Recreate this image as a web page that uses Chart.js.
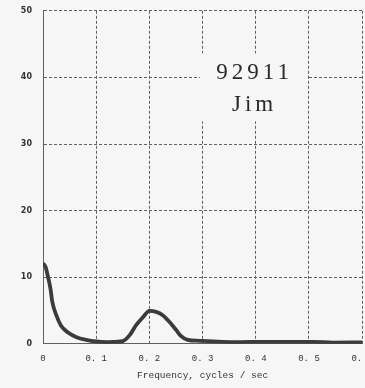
<!DOCTYPE html>
<html>
<head>
<meta charset="utf-8">
<script src="https://cdn.jsdelivr.net/npm/chart.js@4/dist/chart.umd.min.js"></script>
<style>
  html, body { margin: 0; padding: 0; background: #f6f6f6; overflow: hidden; }
  #wrap { width: 382px; height: 393px; margin-top: -5px; }
</style>
</head>
<body>
<div id="wrap"><canvas id="spec"></canvas></div>
<script>
// spectrum samples: frequency (cycles/sec) and power
const freqs = [0, 0.005, 0.0095, 0.014, 0.0175, 0.025, 0.034, 0.047, 0.063, 0.081, 0.1, 0.119, 0.137,
  0.15, 0.163, 0.175, 0.188, 0.2, 0.2125, 0.225, 0.2375, 0.25, 0.259, 0.272, 0.294, 0.32, 0.36, 0.42, 0.51, 0.545, 0.6];
const power = [12.1, 11.5, 10.0, 8.3, 6.3, 4.3, 2.7, 1.7, 1.0, 0.6, 0.35, 0.25, 0.3,
  0.4, 1.3, 2.8, 4.0, 4.95, 4.8, 4.3, 3.3, 2.1, 1.2, 0.6, 0.45, 0.35, 0.25, 0.3, 0.28, 0.18, 0.2];
const xTickLabels = ['0', '0. 1', '0. 2', '0. 3', '0. 4', '0. 5', '0. 6'];
const yTicks = [0, 10, 20, 30, 40, 50];
const noteLines = ['92911', 'Jim'];

const ink = '#3b3b3b';
const gridInk = '#606060';

// boxed caption drawn over the grid, positioned in data units
const notePlugin = {
  id: 'note',
  beforeDatasetsDraw(chart) {
    const { ctx, scales: { x, y } } = chart;
    const x0 = x.getPixelForValue(0.295), x1 = x.getPixelForValue(0.498);
    const y0 = y.getPixelForValue(43.6), y1 = y.getPixelForValue(33.4);
    ctx.save();
    ctx.fillStyle = '#f6f6f6';
    ctx.fillRect(x0, y0, x1 - x0, y1 - y0);
    ctx.fillStyle = '#2a2a2a';
    ctx.font = '23px "Liberation Serif"';
    ctx.textAlign = 'center';
    ctx.textBaseline = 'alphabetic';
    ctx.letterSpacing = '4px';
    const cx = x.getPixelForValue(0.394) + 2;
    ctx.fillText(noteLines[0], cx, y.getPixelForValue(39.8));
    ctx.fillText(noteLines[1], cx, y.getPixelForValue(35.0));
    ctx.restore();
  }
};

new Chart(document.getElementById('spec'), {
  type: 'line',
  data: {
    datasets: [{
      data: freqs.map((f, i) => ({ x: f, y: power[i] })),
      borderColor: ink,
      borderWidth: 3.8,
      pointRadius: 0,
      cubicInterpolationMode: 'monotone',
      fill: false
    }]
  },
  options: {
    responsive: true,
    maintainAspectRatio: false,
    animation: false,
    layout: { padding: { top: 0, right: 0, bottom: 7, left: 0 } },
    plugins: { legend: { display: false }, tooltip: { enabled: false } },
    scales: {
      x: {
        type: 'linear',
        min: 0, max: 0.6,
        afterBuildTicks: s => { s.ticks = xTickLabels.map((_, i) => ({ value: i / 10 })); },
        ticks: {
          callback: (v, i) => xTickLabels[i],
          color: '#333',
          font: { family: 'Liberation Mono', size: 9 },
          padding: 9,
          maxRotation: 0
        },
        grid: { color: gridInk, lineWidth: 1, drawTicks: false },
        border: { color: gridInk, dash: [3, 2] },
        title: {
          display: true,
          text: 'Frequency, cycles / sec',
          color: '#333',
          font: { family: 'Liberation Mono', size: 9.5 },
          padding: { top: -3, bottom: 0 }
        }
      },
      y: {
        min: 0, max: 50,
        afterBuildTicks: s => { s.ticks = yTicks.map(v => ({ value: v })); },
        afterFit: s => { s.width = 43; },
        ticks: {
          color: '#333',
          font: { family: 'DejaVu Sans', size: 8, weight: 'bold' },
          padding: 11
        },
        grid: { color: gridInk, lineWidth: 1, drawTicks: false },
        border: { color: gridInk, dash: [3, 2] }
      }
    }
  },
  plugins: [notePlugin]
});
</script>
</body>
</html>
